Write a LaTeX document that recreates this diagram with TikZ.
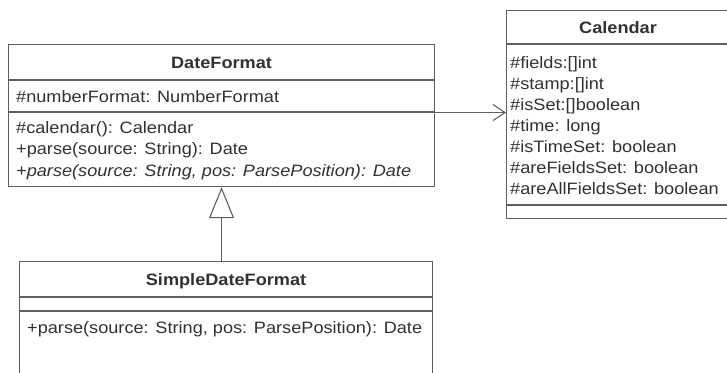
\documentclass[tikz,border=0pt]{standalone}
\usepackage{fontspec}
\setmainfont{Liberation Sans}[FakeStretch=1.1]
\usetikzlibrary{arrows.meta}
\definecolor{linec}{RGB}{95,95,95}
\definecolor{textc}{RGB}{50,50,50}
\begin{document}
\begin{tikzpicture}[x=1pt,y=-1pt,
  box/.style={draw=linec, line width=1.1pt, rectangle, inner sep=0pt, anchor=north west},
  sep/.style={draw=linec, line width=1.1pt},
  txt/.style={inner sep=0pt, anchor=base west, text=textc, font=\fontsize{16.5}{20}\selectfont},
  ttl/.style={inner sep=0pt, anchor=base, text=textc, font=\fontsize{16.5}{20}\selectfont\bfseries},
  assoc/.style={draw=linec, line width=1.1pt, -{Straight Barb[length=12pt,width=16pt]}},
  inherit/.style={draw=linec, line width=1.1pt, -{Triangle[open, length=31pt, width=25pt]}}
]
\useasboundingbox[fill=white] (0,0) rectangle (727,372);

% DateFormat
\node[box, minimum width=426pt, minimum height=142pt] (df) at (8,44) {};
\draw[sep] (df.west |- 0,80) -- (df.east |- 0,80);
\draw[sep] (df.west |- 0,112) -- (df.east |- 0,112);
\node[ttl] (dft) at (df.north |- 0,68) {DateFormat};
\node[txt] (dfa1) at (16,102) {\#numberFormat: NumberFormat};
\node[txt] (dfm1) at (16,133) {\#calendar(): Calendar};
\node[txt] (dfm2) at (16,154) {+parse(source: String): Date};
\node[txt] (dfm3) at (16,176) {\itshape +parse(source: String, pos: ParsePosition): Date};

% Calendar
\node[box, minimum width=223pt, minimum height=208pt] (cal) at (506,10) {};
\draw[sep] (cal.west |- 0,44) -- (cal.east |- 0,44);
\draw[sep] (cal.west |- 0,205) -- (cal.east |- 0,205);
\node[ttl] (calt) at (cal.north |- 0,33) {Calendar};
\node[txt] (ca1) at (510,68) {\#fields:[]int};
\node[txt] (ca2) at (510,89) {\#stamp:[]int};
\node[txt] (ca3) at (510,110) {\#isSet:[]boolean};
\node[txt] (ca4) at (510,131) {\#time: long};
\node[txt] (ca5) at (510,152) {\#isTimeSet: boolean};
\node[txt] (ca6) at (510,173) {\#areFieldsSet: boolean};
\node[txt] (ca7) at (510,194) {\#areAllFieldsSet: boolean};

% SimpleDateFormat
\node[box, minimum width=413pt, minimum height=125pt] (sdf) at (19,261) {};
\draw[sep] (sdf.west |- 0,297) -- (sdf.east |- 0,297);
\draw[sep] (sdf.west |- 0,311) -- (sdf.east |- 0,311);
\node[ttl] (sdft) at (sdf.north |- 0,285) {SimpleDateFormat};
\node[txt] (sdm1) at (27,333) {+parse(source: String, pos: ParsePosition): Date};

% connectors
\draw[assoc] ([yshift=3pt]df.east) -- ([yshift=3pt]df.east -| cal.west);
\draw[inherit] (sdf.north -| df.south) -- (df.south);
\end{tikzpicture}
\end{document}
